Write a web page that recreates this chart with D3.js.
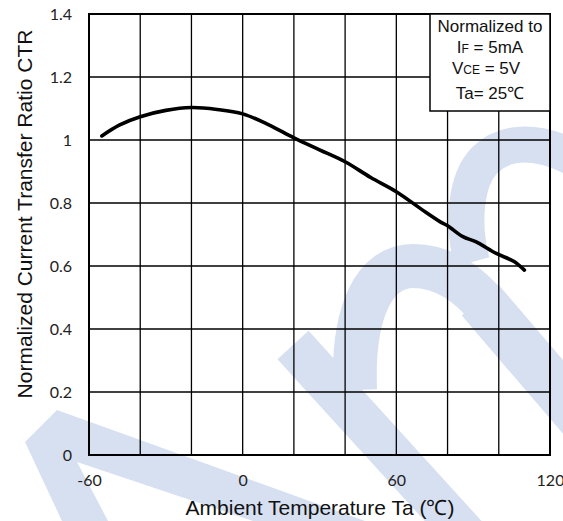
<!DOCTYPE html>
<html>
<head>
<meta charset="utf-8">
<script src="https://cdn.jsdelivr.net/npm/d3@7"></script>
<style>
  body { margin: 0; background: #fff; }
  svg { display: block; }
</style>
</head>
<body>
<svg id="chart" width="563" height="521"></svg>
<script>
// datos
const temps = [-55, -48, -40, -30, -20, -10, 0, 10, 20, 30, 40, 50, 60, 70, 77, 80, 86, 91, 99, 106, 110];
const ctr   = [1.013, 1.048, 1.074, 1.094, 1.103, 1.097, 1.083, 1.049, 1.007, 0.969, 0.931, 0.881, 0.836, 0.779, 0.741, 0.728, 0.693, 0.677, 0.640, 0.614, 0.587];
const xGrid = [-60, -40, -20, 0, 20, 40, 60, 80, 100, 120];
const xTickLabels = [-60, 0, 60, 120];
const yTicks = [0, 0.2, 0.4, 0.6, 0.8, 1, 1.2, 1.4];
const legendLines = ["Normalized to", "I|F| = 5mA", "V|CE| = 5V", "Ta= 25℃"];

const svg = d3.select("#chart");
const plotL = 89, plotR = 550, plotT = 14, plotB = 455;

const x = d3.scaleLinear().domain([-60, 120]).range([plotL, plotR]);
const y = d3.scaleLinear().domain([0, 1.4]).range([plotB, plotT]);

// marca de agua azul (fondo)
const wm = svg.append("g").attr("class", "watermark");
const azul = "#d6e0f1";
wm.append("path")
    .attr("d", "M25,442 L57,410 L365,521 L253,521 L77,462 L108,521 L62,521 Z")
    .attr("fill", azul);
wm.append("path")
    .attr("d", "M293,345 L475,545")
    .attr("stroke", azul).attr("stroke-width", 42).attr("fill", "none");
wm.append("path")
    .attr("d", "M355,390 C352,310 375,266 413,266 C445,266 470,285 490,310")
    .attr("stroke", azul).attr("stroke-width", 44).attr("fill", "none");
wm.append("path")
    .attr("d", "M480,300 L600,440")
    .attr("stroke", azul).attr("stroke-width", 48).attr("fill", "none");
wm.append("path")
    .attr("d", "M472,262 C462,225 465,180 485,160 C505,140 540,138 580,162")
    .attr("stroke", azul).attr("stroke-width", 36).attr("fill", "none");

// rejilla
const grid = svg.append("g").attr("class", "grid");
grid.selectAll(".vline")
    .data(xGrid)
    .join("line")
    .attr("class", "vline")
    .attr("x1", d => x(d)).attr("x2", d => x(d))
    .attr("y1", plotT).attr("y2", plotB)
    .attr("stroke", "#000").attr("stroke-width", 1.3);
grid.selectAll(".hline")
    .data(yTicks)
    .join("line")
    .attr("class", "hline")
    .attr("x1", plotL).attr("x2", plotR)
    .attr("y1", d => y(d)).attr("y2", d => y(d))
    .attr("stroke", "#000").attr("stroke-width", 1.3);

// marco
svg.append("rect")
    .attr("x", plotL).attr("y", plotT)
    .attr("width", plotR - plotL).attr("height", plotB - plotT)
    .attr("fill", "none").attr("stroke", "#000").attr("stroke-width", 2);

// ejes (solo etiquetas), con guion normal en los negativos
const xAxis = svg.append("g")
    .attr("transform", `translate(0,${plotB})`)
    .call(d3.axisBottom(x).tickValues(xTickLabels).tickFormat(d => String(d)).tickSize(0).tickPadding(20));
xAxis.select(".domain").remove();
xAxis.selectAll("text")
    .attr("font-family", "Lato, 'Open Sans', sans-serif")
    .attr("font-size", 16).attr("fill", "#222");

const yAxis = svg.append("g")
    .attr("transform", `translate(${plotL},0)`)
    .call(d3.axisLeft(y).tickValues(yTicks).tickFormat(d => String(d)).tickSize(0).tickPadding(17));
yAxis.select(".domain").remove();
yAxis.selectAll("text")
    .attr("font-family", "Lato, 'Open Sans', sans-serif")
    .attr("font-size", 16).attr("fill", "#222");

// titulos
svg.append("text")
    .attr("x", 320).attr("y", 515)
    .attr("text-anchor", "middle")
    .attr("font-family", "'Liberation Sans', Arial, sans-serif")
    .attr("font-size", 21).attr("fill", "#111")
    .text("Ambient Temperature Ta (℃)");

svg.append("text")
    .attr("transform", "translate(32,214) rotate(-90)")
    .attr("text-anchor", "middle")
    .attr("font-family", "'Liberation Sans', Arial, sans-serif")
    .attr("font-size", 21).attr("fill", "#111")
    .text("Normalized Current Transfer Ratio CTR");

// curva
const line = d3.line()
    .x((d, i) => x(temps[i]))
    .y(d => y(d))
    .curve(d3.curveCatmullRom);

svg.append("path")
    .datum(ctr)
    .attr("d", line)
    .attr("fill", "none")
    .attr("stroke", "#000")
    .attr("stroke-width", 3.6)
    .attr("stroke-linecap", "round")
    .attr("stroke-linejoin", "round");

// cuadro de leyenda
const boxX = 430, boxW = plotR - 430, boxH = 97;
svg.append("rect")
    .attr("x", boxX).attr("y", plotT)
    .attr("width", boxW).attr("height", boxH)
    .attr("fill", "#fff").attr("stroke", "#000").attr("stroke-width", 1.5);

const baselines = [31.5, 53, 73.5, 99];
legendLines.forEach((txt, i) => {
    const t = svg.append("text")
        .attr("x", boxX + boxW / 2 + (i === 2 ? -4 : 0))
        .attr("y", baselines[i])
        .attr("text-anchor", "middle")
        .attr("font-family", "'Liberation Sans', Arial, sans-serif")
        .attr("font-size", 17).attr("fill", "#111");
    // partes separadas por | : la del medio va en subindice pequeno
    const parts = txt.split("|");
    parts.forEach((p, j) => {
        t.append("tspan")
            .attr("font-size", j === 1 ? 12 : 17)
            .text(p);
    });
});
</script>
</body>
</html>
